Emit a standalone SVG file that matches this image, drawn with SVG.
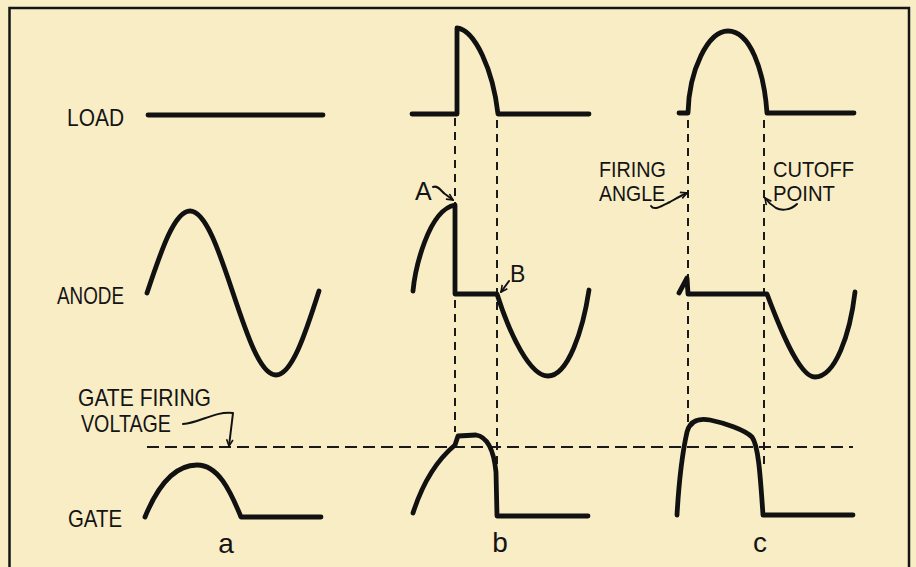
<svg xmlns="http://www.w3.org/2000/svg" width="916" height="567" viewBox="0 0 916 567">
  <defs>
    <style>
      .bg { fill: #F9EDC6; }
      .frame { fill: none; stroke: #151515; stroke-width: 2.5; }
      .wave { fill: none; stroke: #111; stroke-width: 4.8; stroke-linecap: round; stroke-linejoin: round; }
      .dash { fill: none; stroke: #1a1a1a; stroke-width: 2; stroke-dasharray: 8 6; }
      .hdash { fill: none; stroke: #1a1a1a; stroke-width: 2.2; stroke-dasharray: 12 6; }
      .lead { fill: none; stroke: #111; stroke-width: 2; stroke-linecap: round; stroke-linejoin: round; }
      .lbl { font-family: "Liberation Sans", Arial, sans-serif; font-size: 24px; fill: #141414; }
      .lbl2 { font-family: "Liberation Sans", Arial, sans-serif; font-size: 21.5px; fill: #141414; }
      .big { font-family: "Liberation Sans", Arial, sans-serif; font-size: 28px; fill: #141414; text-anchor: middle; }
    </style>
    <marker id="arr" viewBox="0 0 10 10" refX="9" refY="5" markerWidth="8" markerHeight="8" markerUnits="userSpaceOnUse" orient="auto">
      <path d="M1,1 L9,5 L1,9" fill="none" stroke="#111" stroke-width="2"/>
    </marker>
  </defs>

  <rect class="bg" x="0" y="0" width="916" height="567"/>
  <path class="frame" d="M9.5,567 V8 H909 V567"/>

  <!-- connectors: projection dashed lines and firing level -->
  <g id="connectors">
    <line class="dash" x1="455" y1="118" x2="455" y2="432"/>
    <line class="dash" x1="497" y1="120" x2="497" y2="470"/>
    <line class="dash" x1="688" y1="120" x2="688" y2="426"/>
    <line class="dash" x1="764" y1="120" x2="764" y2="468"/>
    <line class="hdash" x1="147" y1="447" x2="853" y2="447"/>
    <path class="lead" d="M183,424 C200,423 214,411 233,413 L229,446" marker-end="url(#arr)"/>
    <path class="lead" d="M433,187 C438,185 441,191 445,194 C448,196 450,198 453,200" marker-end="url(#arr)"/>
    <path class="lead" d="M509,281 L501,292" marker-end="url(#arr)"/>
    <path class="lead" d="M651,206 C654,211 662,206 670,202 C677,198 682,195 687,193" marker-end="url(#arr)"/>
    <path class="lead" d="M797,204 C791,210 782,211 776,208 C771,205 768,202 765,198" marker-end="url(#arr)"/>
  </g>

  <!-- row labels -->
  <g id="label-load"><text class="lbl" x="67" y="126" textLength="57" lengthAdjust="spacingAndGlyphs">LOAD</text></g>
  <g id="label-anode"><text class="lbl" x="57" y="304" textLength="67" lengthAdjust="spacingAndGlyphs">ANODE</text></g>
  <g id="label-gate-firing">
    <text class="lbl" x="78" y="406" textLength="133" lengthAdjust="spacingAndGlyphs">GATE FIRING</text>
    <text class="lbl" x="81" y="432" textLength="90" lengthAdjust="spacingAndGlyphs">VOLTAGE</text>
  </g>
  <g id="label-gate"><text class="lbl" x="68" y="527" textLength="54" lengthAdjust="spacingAndGlyphs">GATE</text></g>
  <g id="label-firing-angle">
    <text class="lbl2" x="599" y="177" textLength="67" lengthAdjust="spacingAndGlyphs">FIRING</text>
    <text class="lbl2" x="599" y="201" textLength="66" lengthAdjust="spacingAndGlyphs">ANGLE</text>
  </g>
  <g id="label-cutoff">
    <text class="lbl2" x="773" y="177" textLength="81" lengthAdjust="spacingAndGlyphs">CUTOFF</text>
    <text class="lbl2" x="773" y="201" textLength="62" lengthAdjust="spacingAndGlyphs">POINT</text>
  </g>
  <g id="label-A"><text class="lbl" x="415" y="200" style="font-size:25px">A</text></g>
  <g id="label-B"><text class="lbl" x="510" y="282" style="font-size:23px">B</text></g>

  <!-- panel a -->
  <g id="a-load"><path class="wave" d="M148,115 L323,115"/></g>
  <g id="a-anode"><path class="wave" d="M147,293 C161,251 174.4,211 190,211 C205.6,211 219,251 233,293 C247,335 260.4,375 276,375 C291.6,375 305,335 319,291"/></g>
  <g id="a-gate"><path class="wave" d="M145,517 C156,490 172,465 197,465 C218,465 230,490 241,517 L321,517"/></g>
  <g id="label-a"><text class="big" x="226" y="553">a</text></g>

  <!-- panel b -->
  <g id="b-load"><path class="wave" d="M412,114 L457,114 L457,28 C475,30 493,70 498,114 L589,114"/></g>
  <g id="b-anode"><path class="wave" d="M413,291 C415,270 428,210 455,205 L455,294 L497,294 C510,335 530,376 548,376 C568,376 583,330 589,290"/></g>
  <g id="b-gate"><path class="wave" d="M413,513 C422,485 437,460 455,445 L458,436 L476,435 C488,437 494,452 496,472 L497,516 L588,516"/></g>
  <g id="label-b"><text class="big" x="500" y="552">b</text></g>

  <!-- panel c -->
  <g id="c-load"><path class="wave" d="M679,113 L688,113 C689,70 708,31 728,31 C750,31 764,70 767,113 L854,113"/></g>
  <g id="c-anode"><path class="wave" d="M679,293 L687,278 L688,294 L767,294 C776,318 798,377 815,377 C835,377 850,335 855,292"/></g>
  <g id="c-gate"><path class="wave" d="M677,515 C679,480 683,450 687,432 C690,420 700,418 710,420 C725,423 745,430 752,437 C758,445 760,470 763,515 L853,515"/></g>
  <g id="label-c"><text class="big" x="760" y="552">c</text></g>
</svg>
